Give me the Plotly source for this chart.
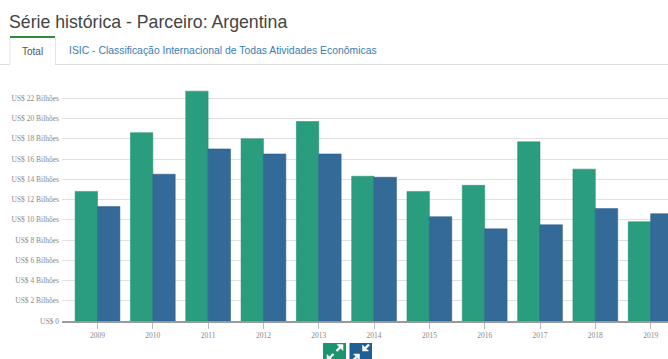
import plotly.graph_objects as go

# Annual trade totals with Argentina, in billions of US dollars
years = ["2009", "2010", "2011", "2012", "2013", "2014", "2015", "2016", "2017", "2018", "2019"]
exports = [12.8, 18.6, 22.7, 18.0, 19.7, 14.3, 12.8, 13.4, 17.7, 15.0, 9.8]
imports = [11.3, 14.5, 17.0, 16.5, 16.5, 14.2, 10.3, 9.1, 9.5, 11.1, 10.6]
tick_values = list(range(0, 24, 2))
tick_labels = ["US$ 0"] + [f"US$ {v} Bilhões" for v in tick_values[1:]]

W, H = 668, 359
L, R, T, B = 62, 0, 78, 38
GREEN, BLUE = "#2a9d7e", "#336a98"


def px(x):
    return (x - L) / (W - L - R)


def py(y):
    return 1 - (y - T) / (H - T - B)


def line(x0, y0, x1, y1, color, width=1):
    return dict(type="line", xref="paper", yref="paper", x0=px(x0), y0=py(y0), x1=px(x1), y1=py(y1),
                line=dict(color=color, width=width), layer="above")


def box(x0, y0, x1, y1, color):
    return dict(type="rect", xref="paper", yref="paper", x0=px(x0), y0=py(y0), x1=px(x1), y1=py(y1),
                fillcolor=color, line=dict(width=0), layer="above")


def icon(cx, cy, outward):
    # Two white diagonal arrows, pointing apart or towards each other
    shapes = []
    for s in (1, -1):
        if outward:
            tip, leg, tail = 8, -6, 1.5
        else:
            tip, leg, tail = 1.5, 6, 8
        tx, ty = cx + s * tip, cy - s * tip
        head = [(tx, ty), (tx + s * leg, ty), (tx, ty - s * leg)]
        path = "M " + " L ".join(f"{px(a)} {py(b)}" for a, b in head) + " Z"
        shapes.append(dict(type="path", xref="paper", yref="paper", path=path,
                           fillcolor="white", line=dict(color="white", width=0.5), layer="above"))
        mid = tip + leg * 0.5
        shapes.append(line(cx + s * mid, cy - s * mid, cx + s * tail, cy - s * tail, "white", 2.4))
    return shapes


fig = go.Figure()
fig.add_bar(x=years, y=exports, marker=dict(color=GREEN, line=dict(color="#1f8a6c", width=0.5)), hoverinfo="x+y")
fig.add_bar(x=years, y=imports, marker=dict(color=BLUE, line=dict(color="#245a88", width=0.5)), hoverinfo="x+y")

shapes = [
    line(0, 64.5, 10, 64.5, "#dddddd"),
    line(55, 64.5, 668, 64.5, "#dddddd"),
    line(10, 37, 55, 37, "#2e8b3d", 2),
    line(10, 38, 10, 64, "#e4e4e4"),
    line(55.5, 38, 55.5, 64, "#e4e4e4"),
    box(323, 343, 346, 359, "#1a9570"),
    box(349.5, 343, 372, 359, "#1f5f96"),
]
shapes += icon(335, 352.5, True) + icon(361, 352.5, False)


def label(x, y, text, size, color, family="Liberation Sans", anchor="left"):
    return dict(xref="paper", yref="paper", x=px(x), y=py(y), text=text, showarrow=False, xanchor=anchor,
                yanchor="middle", font=dict(family=family, size=size, color=color))


fig.update_layout(
    width=W, height=H, autosize=False,
    margin=dict(l=L, r=R, t=T, b=B),
    paper_bgcolor="white", plot_bgcolor="white",
    barmode="group", bargap=0.19, bargroupgap=0,
    showlegend=False,
    shapes=shapes,
    annotations=[
        label(7, 21.5, "Série histórica - Parceiro: Argentina", 17.7, "#444444"),
        label(32.5, 51.5, "Total", 10, "#555555", anchor="center"),
        label(67, 50.5, "ISIC - Classificação Internacional de Todas Atividades Econômicas", 10.4, "#3b7cb3"),
    ],
    xaxis=dict(type="category", range=[-0.642, 10.314], showgrid=False, ticks="outside", ticklen=6,
               tickcolor="#bbbbbb", tickwidth=1, showline=True, linecolor="#999999", linewidth=1.5,
               ticklabelstandoff=0,
               tickfont=dict(family="Liberation Serif", size=7.5, color="#888888")),
    yaxis=dict(range=[0, 24], tickvals=tick_values, ticktext=tick_labels, showgrid=True, gridcolor="#e0e0e0",
               gridwidth=1, zeroline=False, showline=False, ticks="", ticklabelstandoff=2,
               tickfont=dict(family="Liberation Serif", size=7.5, color="#888888")),
)

fig.write_html("out.html")
